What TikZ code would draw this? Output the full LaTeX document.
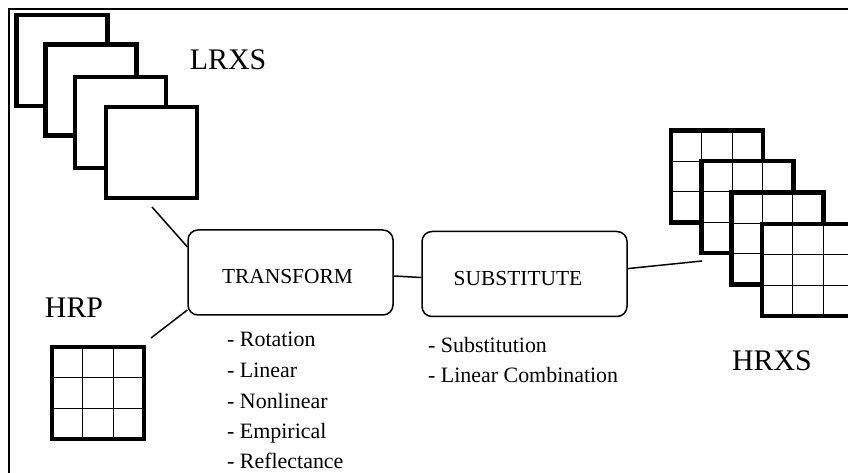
\documentclass[tikz,border=0pt]{standalone}
\usepackage{fontspec}
\setmainfont{Liberation Serif}
\usetikzlibrary{calc}
\begin{document}
\begin{tikzpicture}[x=1bp,y=-1bp,
  frameline/.style={line width=2bp},
  sq/.style={draw, line width=4.5bp, fill=white, minimum size=91bp, inner sep=0pt, outer sep=0pt},
  gridsq/.style={sq, minimum size=92bp, path picture={
     \foreach \f in {1,2}{
       \draw[line width=1.3bp] ($(path picture bounding box.north west)!\f/3!(path picture bounding box.north east)$) -- ($(path picture bounding box.south west)!\f/3!(path picture bounding box.south east)$);
       \draw[line width=1.3bp] ($(path picture bounding box.north west)!\f/3!(path picture bounding box.south west)$) -- ($(path picture bounding box.north east)!\f/3!(path picture bounding box.south east)$);
     }}},
  procbox/.style={draw, rounded corners=10bp, line width=1.5bp, minimum width=205bp, minimum height=85bp, inner sep=0pt},
  boxtext/.style={font=\fontsize{21.5}{26}\selectfont, inner sep=0pt},
  bigtext/.style={font=\fontsize{30}{36}\selectfont, inner sep=0pt},
  item/.style={font=\fontsize{22}{26}\selectfont, anchor=base west, inner sep=0pt},
  conn/.style={line width=1.5bp}
]
\useasboundingbox (0,0) rectangle (848,473);
\begin{scope}
\clip (0,0) rectangle (848,473);
\draw[frameline] (9,9) rectangle (900,520);

% LRXS stack
\node[sq] (L1) at (62,60.5) {};
\node[sq] (L2) at (91,90) {};
\node[sq] (L3) at (120.5,122.5) {};
\node[sq] (L4) at (151.5,152.5) {};
\node[bigtext] (lrxs) at (228,60) {LRXS};

% HRP
\node[bigtext] (hrp) at (74,308) {HRP};
\node[gridsq] (P) at (98,393) {};

% HRXS stack
\node[gridsq] (H1) at (717,176.5) {};
\node[gridsq] (H2) at (747.5,207) {};
\node[gridsq] (H3) at (777.5,238.5) {};
\node[gridsq] (H4) at (808,270) {};
\node[bigtext] (hrxs) at (772,361) {HRXS};
\end{scope}

% process boxes
\node[procbox] (T) at (290.5,272.5) {};
\node[boxtext] (Tl) at (287.5,277) {TRANSFORM};
\node[procbox] (S) at (524.5,274) {};
\node[boxtext] (Sl) at (518,279) {SUBSTITUTE};

% lists
\node[item] (t1) at (227,347) {- Rotation};
\node[item] (t2) at (227,377.5) {- Linear};
\node[item] (t3) at (227,408) {- Nonlinear};
\node[item] (t4) at (227,438) {- Empirical};
\node[item] (t5) at (227,468) {- Reflectance};
\node[item] (s1) at (428,353) {- Substitution};
\node[item] (s2) at (428,383) {- Linear Combination};

% connectors
\coordinate (lrxsEnd) at (152,207);
\coordinate (hrpEnd) at (151,338);
\coordinate (hrxsEnd) at (702,261);
\draw[conn] (lrxsEnd) -- (T.166.6);
\draw[conn] (hrpEnd) -- (T.200.5);
\draw[conn] ([yshift=-3.5bp]T.east) -- ([yshift=-3.5bp]S.west);
\draw[conn] (S.3.4) -- (hrxsEnd);
\end{tikzpicture}
\end{document}
